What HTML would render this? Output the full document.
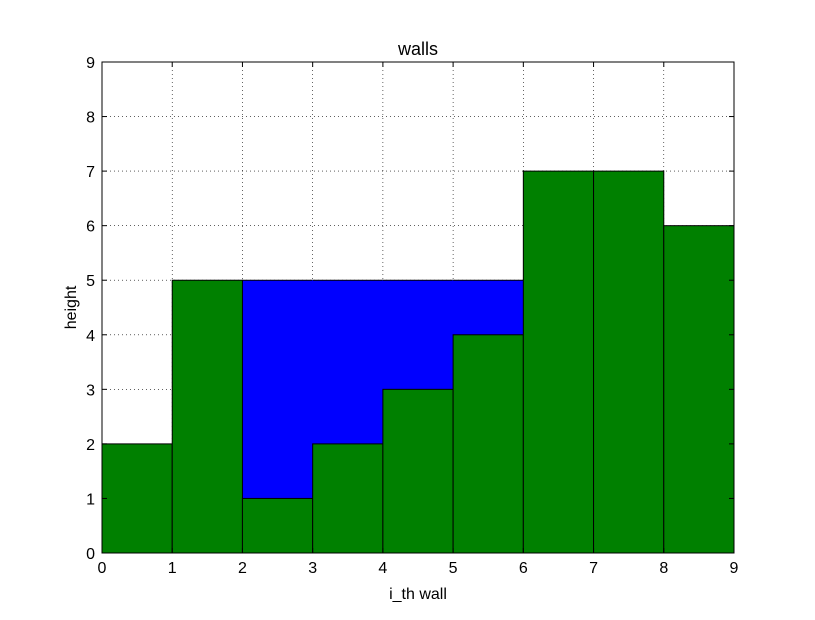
<!DOCTYPE html>
<html><head><meta charset="utf-8"><style>
body{margin:0;background:#fff;}
svg text{font-family:"Liberation Sans","DejaVu Sans",sans-serif;fill:#000;}
</style></head><body>
<svg id="chart" width="815" height="615" xmlns="http://www.w3.org/2000/svg">
<rect width="815" height="615" fill="#fff"/>
<g id="grid"></g><g id="bars"></g><g id="axes"></g>
</svg>
<script>
const categories=[0,1,2,3,4,5,6,7,8];
const wallHeights=[2,5,1,2,3,4,7,7,6];
const waterHeights=[0,0,4,3,2,1,0,0,0];
const xTicks=[0,1,2,3,4,5,6,7,8,9];
const yTicks=[0,1,2,3,4,5,6,7,8,9];
const L=102,R=734,T=62,B=553;
const xs=v=>L+(R-L)*v/9, ys=v=>B-(B-T)*v/9;
const NS="http://www.w3.org/2000/svg";
function mk(parent,tag,attrs,text){const e=document.createElementNS(NS,tag);for(const k in attrs)e.setAttribute(k,attrs[k]);if(text!==undefined)e.textContent=text;document.getElementById(parent).appendChild(e);return e;}
// grid
xTicks.forEach(t=>{if(t>0&&t<9){const g=mk('grid','line',{x1:xs(t),x2:xs(t),y1:T,y2:B,stroke:'#000','stroke-width':0.6,'stroke-dasharray':'1,3'});

}});
yTicks.forEach(t=>{if(t>0&&t<9){const g=mk('grid','line',{x1:L,x2:R,y1:ys(t),y2:ys(t),stroke:'#000','stroke-width':0.6,'stroke-dasharray':'1,3'});

}});
// water
categories.forEach((c,i)=>{if(waterHeights[i]>0){const b=wallHeights[i],t=b+waterHeights[i];
const r=mk('bars','rect',{x:xs(c)-0.5,y:ys(t),width:xs(c+1)-xs(c)+1,height:ys(b)-ys(t),fill:'#0000ff','shape-rendering':'crispEdges'});


const l=mk('bars','line',{x1:xs(c),x2:xs(c+1),y1:ys(t),y2:ys(t),stroke:'#000','stroke-width':1});

}});
// walls
categories.forEach((c,i)=>{const r=mk('bars','rect',{x:xs(c),y:ys(wallHeights[i]),width:xs(c+1)-xs(c),height:ys(0)-ys(wallHeights[i]),fill:'#008000',stroke:'#000','stroke-width':1});

});
// axes frame
const f=mk('axes','rect',{x:L,y:T,width:R-L,height:B-T,fill:'none',stroke:'#000','stroke-width':1});


xTicks.forEach(t=>{const x=xs(t);mk('axes','line',{x1:x,x2:x,y1:B,y2:B-5,stroke:'#000'});mk('axes','line',{x1:x,x2:x,y1:T,y2:T+5,stroke:'#000'});
const e=mk('axes','text',{x:x,y:B+20,'text-anchor':'middle','font-size':16},String(t));

});
yTicks.forEach(t=>{const y=ys(t);mk('axes','line',{x1:L,x2:L+5,y1:y,y2:y,stroke:'#000'});mk('axes','line',{x1:R,x2:R-5,y1:y,y2:y,stroke:'#000'});
const e=mk('axes','text',{x:L-7,y:y+6,'text-anchor':'end','font-size':16},String(t));

});
const ti=mk('axes','text',{x:(L+R)/2,y:55,'text-anchor':'middle','font-size':18},'walls');


const xl=mk('axes','text',{x:(L+R)/2,y:599,'text-anchor':'middle','font-size':16},'i_th wall');


const yl=mk('axes','text',{x:76,y:(T+B)/2,'text-anchor':'middle','font-size':16,transform:'rotate(-90 76 '+((T+B)/2)+')'},'height');


</script>
</body></html>
